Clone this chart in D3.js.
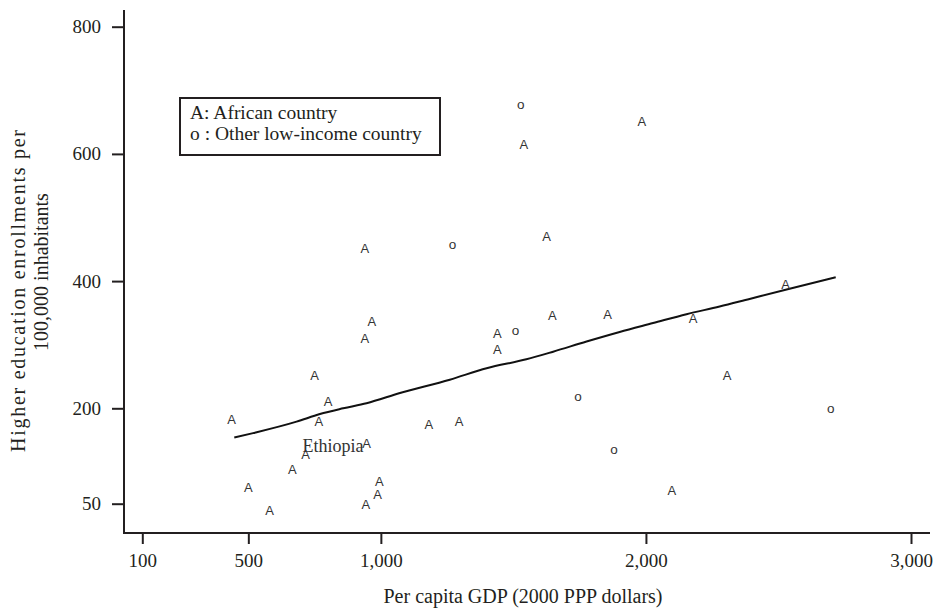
<!DOCTYPE html>
<html>
<head>
<meta charset="utf-8">
<script src="https://cdn.jsdelivr.net/npm/d3@7"></script>
<style>
  body { margin: 0; background: #fff; }
  svg { display: block; }
</style>
</head>
<body>
<svg id="chart" width="934" height="609"></svg>
<script>
// African countries: per capita GDP (2000 PPP $) and enrollments per 100,000
const africaGdp = [437, 500, 580, 666, 716, 750, 801, 766, 946, 994, 988, 943, 1181, 1295,
  940, 966, 940, 1539, 1985, 1625, 1439, 1439, 1647, 1855, 2178, 2527, 2306, 2098];
const africaEnroll = [183, 76, 40, 103, 127, 252, 210, 180, 144, 85, 64, 48, 174, 179,
  452, 336, 309, 614, 651, 470, 318, 293, 346, 347, 341, 395, 252, 70];

// other low-income countries
const otherGdp = [1270, 1528, 1508, 1744, 1880, 2697];
const otherEnroll = [457, 677, 322, 218, 136, 199];

// smoothed fit
const fitGdp = [447, 518, 682, 770, 858, 946, 1072, 1260, 1399, 1549, 1650, 1776, 1901,
  2027, 2153, 2278, 2391, 2542, 2716];
const fitEnroll = [154, 161, 179, 191, 200, 208, 224, 245, 263, 277, 289, 305, 320,
  334, 348, 360, 372, 388, 406];

const xTicks = [100, 500, 1000, 2000, 3000];
const yTicks = [50, 200, 400, 600, 800];
const ethiopiaIndex = 4;

const frame = { left: 124, right: 930, top: 10, bottom: 533 };
const ink = "#231f20";
const serif = "'Liberation Serif', 'Times New Roman', serif";
const sans = "'Liberation Sans', Arial, sans-serif";

const x = d3.scaleLinear().domain([100, 3000]).range([142.3, 911]);
const y = d3.scaleLinear().domain([50, 800]).range([503.7, 26.7]);

const svg = d3.select("#chart");

// axes
const xAxis = svg.append("g")
  .attr("transform", `translate(0,${frame.bottom})`)
  .call(d3.axisBottom(x).tickValues(xTicks).tickFormat(d3.format(",")).tickSize(11).tickPadding(10));

const yAxis = svg.append("g")
  .attr("transform", `translate(${frame.left},0)`)
  .call(d3.axisLeft(y).tickValues(yTicks).tickSize(12).tickPadding(11));

[xAxis, yAxis].forEach(axis => {
  axis.select(".domain").remove();
  axis.selectAll(".tick line").attr("stroke", ink).attr("stroke-width", 2);
  axis.selectAll(".tick text")
    .attr("fill", ink)
    .style("font-family", serif)
    .style("font-size", "19px");
});

svg.append("line")
  .attr("x1", frame.left).attr("x2", frame.left)
  .attr("y1", frame.top).attr("y2", frame.bottom + 1)
  .attr("stroke", ink).attr("stroke-width", 2);

svg.append("line")
  .attr("x1", frame.left - 1).attr("x2", frame.right)
  .attr("y1", frame.bottom).attr("y2", frame.bottom)
  .attr("stroke", ink).attr("stroke-width", 2);

// axis titles
svg.append("text")
  .text("Per capita GDP (2000 PPP dollars)")
  .attr("x", 523)
  .attr("y", 603)
  .attr("text-anchor", "middle")
  .attr("fill", ink)
  .style("font-family", serif)
  .style("font-size", "20px");

const yTitle = svg.append("g")
  .attr("fill", ink)
  .style("font-family", serif)
  .style("font-size", "20px");

yTitle.append("text")
  .attr("transform", "translate(25,291) rotate(-90)")
  .attr("text-anchor", "middle")
  .attr("textLength", 322)
  .attr("lengthAdjust", "spacing")
  .text("Higher education enrollments per");

yTitle.append("text")
  .attr("transform", "translate(48,272) rotate(-90)")
  .attr("text-anchor", "middle")
  .text("100,000 inhabitants");

// fit line
const fit = fitGdp.map((g, i) => [g, fitEnroll[i]]);
svg.append("path")
  .datum(fit)
  .attr("fill", "none")
  .attr("stroke", "#111")
  .attr("stroke-width", 2)
  .attr("d", d3.line().x(d => x(d[0])).y(d => y(d[1])).curve(d3.curveMonotoneX));

// markers
const africa = africaGdp.map((g, i) => ({ gdp: g, enroll: africaEnroll[i] }));
const other = otherGdp.map((g, i) => ({ gdp: g, enroll: otherEnroll[i] }));

svg.append("g")
  .selectAll("text")
  .data(africa)
  .join("text")
  .text("A")
  .attr("x", d => x(d.gdp))
  .attr("y", d => y(d.enroll))
  .attr("text-anchor", "middle")
  .attr("dominant-baseline", "central")
  .attr("fill", "#333")
  .style("font-family", sans)
  .style("font-size", "13px");

svg.append("g")
  .selectAll("text")
  .data(other)
  .join("text")
  .text("o")
  .attr("x", d => x(d.gdp))
  .attr("y", d => y(d.enroll))
  .attr("text-anchor", "middle")
  .attr("dominant-baseline", "central")
  .attr("fill", "#333")
  .style("font-family", sans)
  .style("font-size", "13.5px");

const eth = africa[ethiopiaIndex];
svg.append("text")
  .text("Ethiopia")
  .attr("x", x(eth.gdp) - 3)
  .attr("y", y(eth.enroll) - 3)
  .attr("fill", "#333")
  .style("font-family", serif)
  .style("font-size", "18px");

// legend
const legend = svg.append("g").attr("transform", "translate(180,98)");

legend.append("rect")
  .attr("width", 260)
  .attr("height", 57)
  .attr("fill", "#fff")
  .attr("stroke", ink)
  .attr("stroke-width", 2);

legend.selectAll("text")
  .data(["A: African country", "o : Other low-income country"])
  .join("text")
  .text(d => d)
  .attr("x", 10)
  .attr("y", (d, i) => 21 + i * 21)
  .attr("fill", ink)
  .style("font-family", serif)
  .style("font-size", "19.5px");
</script>
</body>
</html>
